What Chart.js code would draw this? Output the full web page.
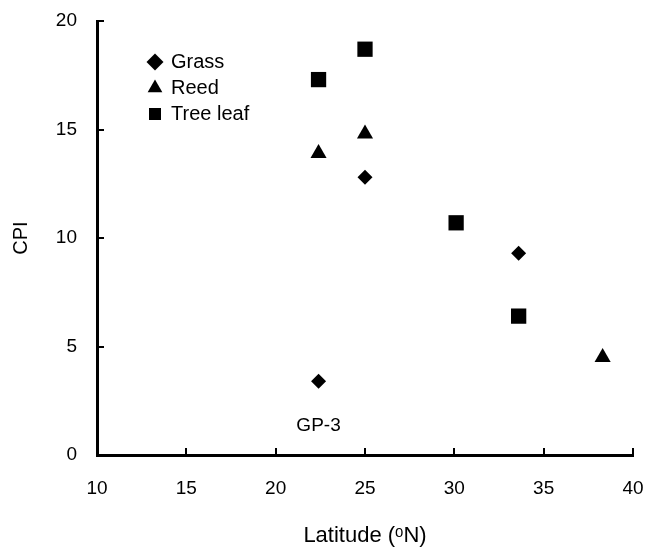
<!DOCTYPE html>
<html>
<head>
<meta charset="utf-8">
<script src="https://cdn.jsdelivr.net/npm/chart.js@4.4.1/dist/chart.umd.min.js"></script>
<style>
  html, body { margin: 0; padding: 0; background: #fff; }
  #wrap { width: 646px; height: 547px; }
</style>
</head>
<body>
<div id="wrap"><canvas id="myChart"></canvas></div>
<script>
// values
const seriesNames = ['Grass', 'Reed', 'Tree leaf'];
const grassLat = [22.4, 25.0, 33.6];
const grassCpi = [3.4, 12.8, 9.3];
const reedLat = [22.4, 25.0, 38.3];
const reedCpi = [13.9, 14.8, 4.5];
const leafLat = [22.4, 25.0, 30.1, 33.6];
const leafCpi = [17.3, 18.7, 10.7, 6.4];
const xTicks = [10, 15, 20, 25, 30, 35, 40];
const yTicks = [0, 5, 10, 15, 20];
const noteText = 'GP-3';

Chart.defaults.font.family = '"Liberation Sans", Arial, sans-serif';
Chart.defaults.font.size = 20;
Chart.defaults.color = '#000';

function toPoints(xs, ys) {
    return xs.map((x, i) => ({ x: x, y: ys[i] }));
}

// moves the legend inside the plot, draws inward tick marks, writes the GP-3 note
const extras = {
    id: 'extras',
    afterLayout(chart) {
        const lg = chart.legend;
        lg.left = chart.chartArea.left + 46;
        lg.top = chart.chartArea.top + 25;
    },
    afterDatasetsDraw(chart) {
        const ctx = chart.ctx;
        const area = chart.chartArea;
        const xs = chart.scales.x;
        const ys = chart.scales.y;
        ctx.save();
        ctx.strokeStyle = '#000';
        ctx.lineWidth = 2;
        ctx.beginPath();
        xs.ticks.forEach(t => {
            const px = Math.round(xs.getPixelForValue(t.value));
            ctx.moveTo(px, area.bottom);
            ctx.lineTo(px, area.bottom - 7);
        });
        ys.ticks.forEach(t => {
            const py = Math.round(ys.getPixelForValue(t.value));
            ctx.moveTo(area.left, py);
            ctx.lineTo(area.left + 7, py);
        });
        ctx.stroke();

        const el = chart.getDatasetMeta(0).data[0];
        ctx.fillStyle = '#000';
        ctx.font = '19px "Liberation Sans", Arial, sans-serif';
        ctx.textAlign = 'center';
        ctx.textBaseline = 'middle';
        ctx.fillText(noteText, el.x, el.y + 45);
        ctx.restore();
    }
};

const ctx = document.getElementById('myChart').getContext('2d');
let myChart = new Chart(ctx, {
    type: 'scatter',
    data: {
        datasets: [{
            label: seriesNames[0],
            data: toPoints(grassLat, grassCpi),
            pointStyle: 'rectRot',
            pointRadius: 7.5,
            backgroundColor: '#000',
            borderColor: '#000',
            borderWidth: 0
        }, {
            label: seriesNames[1],
            data: toPoints(reedLat, reedCpi),
            pointStyle: 'triangle',
            pointRadius: 9.3,
            backgroundColor: '#000',
            borderColor: '#000',
            borderWidth: 0
        }, {
            label: seriesNames[2],
            data: toPoints(leafLat, leafCpi),
            pointStyle: 'rect',
            pointRadius: 10.8,
            backgroundColor: '#000',
            borderColor: '#000',
            borderWidth: 0
        }]
    },
    options: {
        responsive: true,
        maintainAspectRatio: false,
        animation: false,
        layout: { padding: { left: 0, right: 13, top: 21, bottom: 0 } },
        plugins: {
            tooltip: { enabled: false },
            legend: {
                position: 'chartArea',
                align: 'start',
                labels: {
                    usePointStyle: true,
                    boxWidth: 12,
                    boxHeight: 12,
                    padding: 6,
                    color: '#000',
                    font: { size: 20 }
                }
            }
        },
        scales: {
            x: {
                type: 'linear',
                min: 10,
                max: 40,
                afterBuildTicks: s => { s.ticks = xTicks.map(v => ({ value: v })); },
                afterFit: s => { s.height = 92; s.paddingLeft = 0; s.paddingRight = 0; },
                grid: { drawOnChartArea: false, drawTicks: false },
                border: { color: '#000', width: 3 },
                ticks: { color: '#000', padding: 22, font: { size: 19 } },
                title: {
                    display: true,
                    text: 'Latitude (ᵒN)',
                    color: '#000',
                    font: { size: 22, lineHeight: 1 },
                    padding: { top: 0, bottom: 0 }
                }
            },
            y: {
                type: 'linear',
                min: 0,
                max: 20,
                afterBuildTicks: s => { s.ticks = yTicks.map(v => ({ value: v })); },
                afterFit: s => { s.width = 97; s.paddingTop = 0; s.paddingBottom = 0; },
                grid: { drawOnChartArea: false, drawTicks: false },
                border: { color: '#000', width: 3 },
                ticks: { color: '#000', padding: 20, font: { size: 19 } },
                title: {
                    display: true,
                    text: 'CPI',
                    color: '#000',
                    font: { size: 20, lineHeight: 1 },
                    padding: { top: 11, bottom: 0 }
                }
            }
        }
    },
    plugins: [extras]
});
</script>
</body>
</html>
